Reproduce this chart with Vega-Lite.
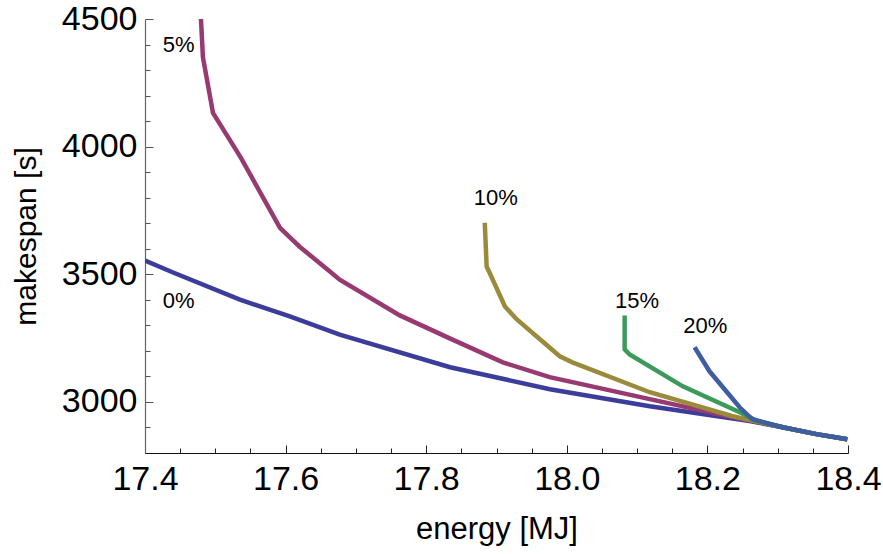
{
  "$schema": "https://vega.github.io/schema/vega-lite/v6.json",
  "autosize": "none",
  "padding": {"left": 145, "top": 19, "right": 35, "bottom": 101},
  "width": 703,
  "height": 434,
  "background": "white",
  "config": {"view": {"stroke": null}, "font": "Liberation Sans"},
  "datasets": {
    "curves": [
      {"s": "0%", "k": 1, "e": 17.400, "m": 3554},
      {"s": "0%", "k": 2, "e": 17.440, "m": 3507},
      {"s": "0%", "k": 3, "e": 17.535, "m": 3401},
      {"s": "0%", "k": 4, "e": 17.606, "m": 3335},
      {"s": "0%", "k": 5, "e": 17.677, "m": 3264},
      {"s": "0%", "k": 6, "e": 17.834, "m": 3136},
      {"s": "0%", "k": 7, "e": 17.976, "m": 3050},
      {"s": "0%", "k": 8, "e": 18.118, "m": 2983},
      {"s": "0%", "k": 9, "e": 18.260, "m": 2925},
      {"s": "0%", "k": 10, "e": 18.307, "m": 2901},
      {"s": "0%", "k": 11, "e": 18.355, "m": 2874},
      {"s": "0%", "k": 12, "e": 18.399, "m": 2854},
      {"s": "5%", "k": 1, "e": 17.4796, "m": 4500},
      {"s": "5%", "k": 2, "e": 17.4824, "m": 4350},
      {"s": "5%", "k": 3, "e": 17.4967, "m": 4132},
      {"s": "5%", "k": 4, "e": 17.5365, "m": 3956},
      {"s": "5%", "k": 5, "e": 17.592, "m": 3682},
      {"s": "5%", "k": 6, "e": 17.620, "m": 3608},
      {"s": "5%", "k": 7, "e": 17.663, "m": 3511},
      {"s": "5%", "k": 8, "e": 17.677, "m": 3479},
      {"s": "5%", "k": 9, "e": 17.7625, "m": 3339},
      {"s": "5%", "k": 10, "e": 17.8335, "m": 3249},
      {"s": "5%", "k": 11, "e": 17.909, "m": 3155},
      {"s": "5%", "k": 12, "e": 17.9757, "m": 3097},
      {"s": "5%", "k": 13, "e": 18.118, "m": 3011},
      {"s": "5%", "k": 14, "e": 18.236, "m": 2940},
      {"s": "5%", "k": 15, "e": 18.270, "m": 2922},
      {"s": "5%", "k": 16, "e": 18.307, "m": 2901},
      {"s": "5%", "k": 17, "e": 18.355, "m": 2874},
      {"s": "5%", "k": 18, "e": 18.399, "m": 2854},
      {"s": "10%", "k": 1, "e": 17.8833, "m": 3702},
      {"s": "10%", "k": 2, "e": 17.886, "m": 3530},
      {"s": "10%", "k": 3, "e": 17.890, "m": 3507},
      {"s": "10%", "k": 4, "e": 17.912, "m": 3374},
      {"s": "10%", "k": 5, "e": 17.929, "m": 3323},
      {"s": "10%", "k": 6, "e": 17.990, "m": 3179},
      {"s": "10%", "k": 7, "e": 18.008, "m": 3155},
      {"s": "10%", "k": 8, "e": 18.118, "m": 3038},
      {"s": "10%", "k": 9, "e": 18.236, "m": 2944},
      {"s": "10%", "k": 10, "e": 18.270, "m": 2923},
      {"s": "10%", "k": 11, "e": 18.307, "m": 2901},
      {"s": "10%", "k": 12, "e": 18.355, "m": 2874},
      {"s": "10%", "k": 13, "e": 18.399, "m": 2854},
      {"s": "15%", "k": 1, "e": 18.0823, "m": 3339},
      {"s": "15%", "k": 2, "e": 18.0823, "m": 3206},
      {"s": "15%", "k": 3, "e": 18.0894, "m": 3186},
      {"s": "15%", "k": 4, "e": 18.165, "m": 3061},
      {"s": "15%", "k": 5, "e": 18.246, "m": 2960},
      {"s": "15%", "k": 6, "e": 18.270, "m": 2926},
      {"s": "15%", "k": 7, "e": 18.307, "m": 2901},
      {"s": "15%", "k": 8, "e": 18.355, "m": 2874},
      {"s": "15%", "k": 9, "e": 18.399, "m": 2854},
      {"s": "20%", "k": 1, "e": 18.1818, "m": 3214},
      {"s": "20%", "k": 2, "e": 18.203, "m": 3120},
      {"s": "20%", "k": 3, "e": 18.2458, "m": 2979},
      {"s": "20%", "k": 4, "e": 18.264, "m": 2932},
      {"s": "20%", "k": 5, "e": 18.307, "m": 2901},
      {"s": "20%", "k": 6, "e": 18.355, "m": 2874},
      {"s": "20%", "k": 7, "e": 18.399, "m": 2854}
    ],
    "labels": [
      {"t": "0%", "e": 17.448, "m": 3397},
      {"t": "5%", "e": 17.448, "m": 4397},
      {"t": "10%", "e": 17.899, "m": 3798},
      {"t": "15%", "e": 18.100, "m": 3397},
      {"t": "20%", "e": 18.197, "m": 3298}
    ]
  },
  "resolve": {"axis": {"x": "independent", "y": "independent"}},
  "layer": [
    {
      "data": {"name": "curves"},
      "mark": {"type": "line", "strokeWidth": 4.5, "clip": true, "strokeJoin": "miter"},
      "encoding": {
        "x": {
          "field": "e", "type": "quantitative",
          "scale": {"domain": [17.4, 18.4], "nice": false, "zero": false},
          "axis": {
            "orient": "bottom",
            "title": "energy [MJ]",
            "values": [17.4, 17.6, 17.8, 18.0, 18.2, 18.4],
            "format": ".1f",
            "labelOverlap": false,
            "labelFlush": false,
            "labelBound": false,
            "labelFont": "Liberation Sans",
            "labelFontSize": 34,
            "labelColor": "black",
            "labelPadding": 17,
            "tickSize": -8,
            "tickColor": "#222",
            "tickWidth": 1,
            "domainColor": "#111",
            "domainWidth": 1.2,
            "grid": false,
            "titleFont": "Liberation Sans",
            "titleFontSize": 31,
            "titleFontWeight": "normal",
            "titleColor": "black",
            "titlePadding": 18
          }
        },
        "y": {
          "field": "m", "type": "quantitative",
          "scale": {"domain": [2800, 4500], "nice": false, "zero": false},
          "axis": {
            "orient": "left",
            "title": "makespan [s]",
            "values": [3000, 3500, 4000, 4500],
            "format": "d",
            "labelOverlap": false,
            "labelFlush": false,
            "labelBound": false,
            "labelFont": "Liberation Sans",
            "labelFontSize": 34,
            "labelColor": "black",
            "labelPadding": 16,
            "tickSize": -8,
            "tickColor": "#555",
            "tickWidth": 1,
            "domainColor": "#666",
            "domainWidth": 1.2,
            "grid": false,
            "titleFont": "Liberation Sans",
            "titleFontSize": 30,
            "titleFontWeight": "normal",
            "titleColor": "black",
            "titlePadding": 20
          }
        },
        "color": {
          "field": "s", "type": "nominal",
          "scale": {"domain": ["0%", "5%", "10%", "15%", "20%"], "range": ["#3c3c9c", "#983a72", "#9a8a3c", "#3c9a5a", "#3e5ea0"]},
          "legend": null
        },
        "order": {"field": "k", "type": "quantitative"}
      }
    },
    {
      "data": {"name": "labels"},
      "mark": {"type": "text", "font": "Liberation Sans", "fontSize": 22, "color": "black", "align": "center", "baseline": "middle"},
      "encoding": {
        "x": {
          "field": "e", "type": "quantitative",
          "axis": {
            "orient": "bottom",
            "title": null,
            "values": [17.45, 17.5, 17.55, 17.65, 17.7, 17.75, 17.85, 17.9, 17.95, 18.05, 18.1, 18.15, 18.25, 18.3, 18.35],
            "labels": false,
            "domain": false,
            "grid": false,
            "tickSize": -5,
            "tickColor": "#222",
            "tickWidth": 1
          }
        },
        "y": {
          "field": "m", "type": "quantitative",
          "axis": {
            "orient": "left",
            "title": null,
            "values": [2900, 3100, 3200, 3300, 3400, 3600, 3700, 3800, 3900, 4100, 4200, 4300, 4400],
            "labels": false,
            "domain": false,
            "grid": false,
            "tickSize": -5,
            "tickColor": "#555",
            "tickWidth": 1
          }
        },
        "text": {"field": "t"}
      }
    }
  ]
}
